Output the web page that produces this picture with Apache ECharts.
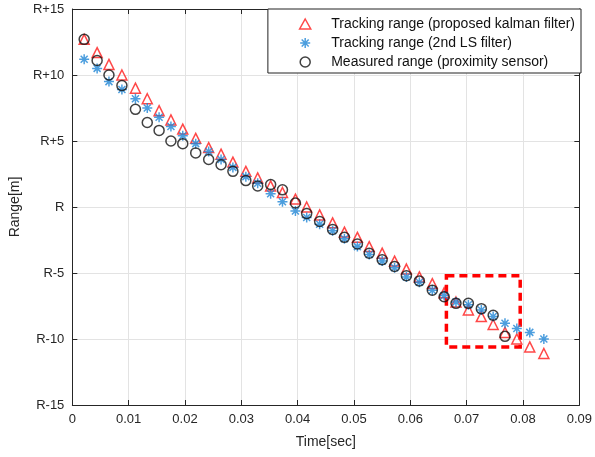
<!DOCTYPE html>
<html>
<head>
<meta charset="utf-8">
<script src="https://cdn.jsdelivr.net/npm/echarts@6/dist/echarts.min.js"></script>
<style>
  html, body { margin: 0; padding: 0; background: #fff; }
  #chart { width: 595px; height: 457px; }
</style>
</head>
<body>
<div id="chart"></div>
<script>
// sample times (sec)
const time = [
  0.0021, 0.0044, 0.0065, 0.0088, 0.0112, 0.0133, 0.0154, 0.0175, 0.0196, 0.0219,
  0.0242, 0.0264, 0.0285, 0.0308, 0.0329, 0.0352, 0.0373, 0.0396, 0.0416, 0.0439,
  0.0462, 0.0483, 0.0506, 0.0527, 0.0550, 0.0572, 0.0593, 0.0616, 0.0639, 0.0660,
  0.0681, 0.0703, 0.0726, 0.0747, 0.0768, 0.0789, 0.0812, 0.0837
];
// offsets from R (m)
const kalman = [
  12.7, 11.7, 10.8, 10.0, 9.0, 8.2, 7.3, 6.6, 5.9, 5.2,
  4.5, 4.0, 3.4, 2.7, 2.2, 1.6, 1.1, 0.6, 0.0, -0.6,
  -1.2, -1.9, -2.3, -3.0, -3.5, -4.1, -4.7, -5.3, -5.8, -6.5,
  -7.2, -7.8, -8.3, -8.9, -9.5, -10.0, -10.6, -11.1
];
const lsFilter = [
  11.2, 10.5, 9.5, 8.9, 8.2, 7.5, 6.8, 6.1, 5.4, 4.8,
  4.2, 3.6, 3.0, 2.3, 1.8, 1.0, 0.4, -0.3, -0.8, -1.3,
  -1.8, -2.4, -3.0, -3.6, -4.1, -4.6, -5.3, -5.7, -6.3, -6.7,
  -7.2, -7.4, -7.8, -8.3, -8.8, -9.2, -9.5, -10.0
];
const measured = [
  12.7, 11.1, 10.0, 9.2, 7.4, 6.4, 5.8, 5.0, 4.8, 4.1,
  3.6, 3.2, 2.7, 2.0, 1.6, 1.7, 1.3, 0.3, -0.5, -1.1,
  -1.7, -2.3, -2.8, -3.5, -4.0, -4.5, -5.2, -5.6, -6.3, -6.8,
  -7.3, -7.3, -7.7, -8.2, -9.8
];
const names = [
  'Tracking range (proposed kalman filter)',
  'Tracking range (2nd LS filter)',
  'Measured range (proximity sensor)'
];
// zoomed region box [t0, v0, t1, v1]
const zoomBox = [0.0664, -5.2, 0.0795, -10.6];

const zip = (xs, ys) => ys.map((y, i) => [xs[i], y]);
const triPath = 'path://M5 0L10 9L0 9Z';
const starPath = 'path://M5 0L5 10M0 5L10 5M1.5 1.5L8.5 8.5M8.5 1.5L1.5 8.5';
const fmtR = v => v === 0 ? 'R' : (v > 0 ? 'R+' + v : 'R' + v);

const red = '#ff1a1a';
const blue = '#1f86d6';
const black = '#111111';
const axisColor = '#262626';
const gridColor = '#e3e3e3';
const font = 'Liberation Sans, Arial, sans-serif';

const chart = echarts.init(document.getElementById('chart'));
chart.setOption({
  backgroundColor: '#fff',
  animation: false,
  grid: { left: 72, right: 15, top: 9, bottom: 52 },
  legend: {
    orient: 'vertical',
    right: 14,
    top: 9,
    padding: [8, 6, 4, 31],
    itemGap: 5,
    itemWidth: 42,
    itemHeight: 10,
    backgroundColor: '#fff',
    borderColor: '#222',
    borderWidth: 1,
    borderRadius: 0,
    textStyle: { fontFamily: font, fontSize: 14, color: '#111' },
    data: [
      { name: names[0], icon: triPath, itemStyle: { color: 'transparent', borderColor: red, borderWidth: 1.5 } },
      { name: names[1], icon: starPath, itemStyle: { color: 'transparent', borderColor: blue, borderWidth: 1.5 } },
      { name: names[2], icon: 'circle', itemStyle: { color: 'transparent', borderColor: black, borderWidth: 1.5 } }
    ]
  },
  xAxis: [
    {
      type: 'value', min: 0, max: 0.09, interval: 0.01,
      name: 'Time[sec]', nameLocation: 'middle', nameGap: 30,
      nameTextStyle: { fontFamily: font, fontSize: 14, color: axisColor },
      axisLine: { show: true, onZero: false, lineStyle: { color: axisColor, width: 1 } },
      axisTick: { show: true, inside: true, length: 5, lineStyle: { color: axisColor } },
      axisLabel: { fontFamily: font, fontSize: 13, color: axisColor, margin: 8 },
      splitLine: { show: true, lineStyle: { color: gridColor, width: 1 } }
    },
    {
      type: 'value', min: 0, max: 0.09, interval: 0.01, position: 'top',
      axisLine: { show: true, onZero: false, lineStyle: { color: axisColor, width: 1 } },
      axisTick: { show: true, inside: true, length: 5, lineStyle: { color: axisColor } },
      axisLabel: { show: false },
      splitLine: { show: false }
    }
  ],
  yAxis: [
    {
      type: 'value', min: -15, max: 15, interval: 5,
      name: 'Range[m]', nameLocation: 'middle', nameGap: 42,
      nameTextStyle: { fontFamily: font, fontSize: 14, color: axisColor },
      axisLine: { show: true, onZero: false, lineStyle: { color: axisColor, width: 1 } },
      axisTick: { show: true, inside: true, length: 5, lineStyle: { color: axisColor } },
      axisLabel: { fontFamily: font, fontSize: 13, color: axisColor, margin: 8, formatter: fmtR },
      splitLine: { show: true, lineStyle: { color: gridColor, width: 1 } }
    },
    {
      type: 'value', min: -15, max: 15, interval: 5, position: 'right',
      axisLine: { show: true, onZero: false, lineStyle: { color: axisColor, width: 1 } },
      axisTick: { show: true, inside: true, length: 5, lineStyle: { color: axisColor } },
      axisLabel: { show: false },
      splitLine: { show: false }
    }
  ],
  series: [
    {
      name: names[0], type: 'scatter', symbol: triPath, symbolSize: 10,
      itemStyle: { color: 'transparent', borderColor: red, borderWidth: 1.5 },
      data: zip(time, kalman),
      markArea: {
        silent: true,
        itemStyle: { color: 'transparent', borderColor: '#ff0000', borderWidth: 3.5, borderType: [8, 5] },
        data: [[{ coord: [zoomBox[0], zoomBox[1]] }, { coord: [zoomBox[2], zoomBox[3]] }]]
      }
    },
    {
      name: names[1], type: 'scatter', symbol: starPath, symbolSize: 10,
      itemStyle: { color: 'transparent', borderColor: blue, borderWidth: 1.5 },
      data: zip(time, lsFilter)
    },
    {
      name: names[2], type: 'scatter', symbol: 'circle', symbolSize: 10,
      itemStyle: { color: 'transparent', borderColor: black, borderWidth: 1.5 },
      data: zip(time, measured)
    }
  ]
});
</script>
</body>
</html>
